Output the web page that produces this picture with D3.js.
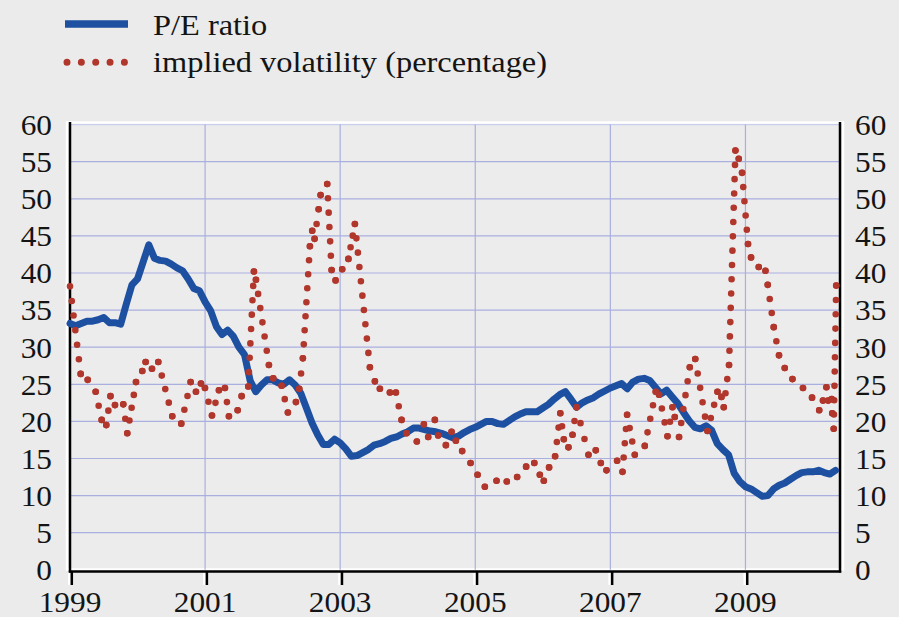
<!DOCTYPE html>
<html><head><meta charset="utf-8">
<script src="https://cdn.jsdelivr.net/npm/d3@7/dist/d3.min.js"></script>
<style>
html,body{margin:0;padding:0;background:#ebebeb;}
svg{display:block;}
svg text{font-family:"Liberation Serif","Times New Roman","DejaVu Serif",serif;}
</style>
</head><body>
<svg id="chart" width="899" height="617"></svg>
<script>
// ---------------- data ----------------
const seriesNames = ["P/E ratio", "implied volatility (percentage)"];
const peStartYear = 1999; // monthly values from January 1999
const peValues = [
  33.2,32.9,33.2,33.5,33.5,33.7,34.0,33.3,33.3,33.1,35.8,38.4,
  39.2,41.5,43.8,42.0,41.7,41.6,41.2,40.7,40.3,39.2,37.9,37.6,
  36.1,34.9,32.8,31.7,32.3,31.5,30.0,29.0,25.5,24.0,24.9,25.6,
  25.6,25.2,25.0,25.6,24.9,23.8,21.8,19.8,18.2,16.9,16.9,17.6,
  17.1,16.3,15.3,15.4,15.8,16.2,16.8,17.0,17.3,17.7,17.9,18.3,
  18.6,19.1,19.1,18.9,18.7,18.6,18.4,18.1,17.8,18.0,18.5,18.9,
  19.2,19.6,20.0,20.0,19.7,19.6,20.1,20.6,21.0,21.3,21.3,21.3,
  21.8,22.3,23.0,23.6,24.0,23.0,21.9,22.5,22.9,23.2,23.7,24.1,
  24.5,24.8,25.1,24.4,25.3,25.7,25.8,25.5,24.6,23.7,24.2,23.3,
  22.4,21.2,20.1,19.2,19.0,19.4,18.8,17.0,16.2,15.5,13.0,11.9,
  11.2,10.9,10.4,9.9,10.0,10.9,11.4,11.7,12.2,12.7,13.1,13.2,
  13.2,13.4,13.1,12.9,13.4
];
const volDates = [
  1999.000,1999.158,1999.262,1999.380,1999.469,1999.537,1999.599,1999.666,1999.789,1999.848,
  1999.977,2000.070,2000.120,2000.214,2000.307,2000.514,2000.647,2000.786,2000.865,2000.939,
  2000.998,2001.102,2001.205,2001.294,2001.353,2001.482,2001.541,2001.639,2001.723,2001.753,
  2001.945,2002.009,2002.133,2002.226,2002.345,2002.394,2002.448,2002.552,2002.586,2002.621,
  2002.681,2002.710,2002.808,2002.873,2002.932,2003.030,2003.122,2003.218,2003.440,2003.514,
  2003.588,2003.736,2003.825,2003.909,2003.983,2004.135,2004.239,2004.303,2004.402,2004.451,
  2004.565,2004.649,2004.713,2004.806,2004.930,2005.034,2005.142,2005.315,2005.467,2005.620,
  2005.753,2005.874,2005.956,2006.015,2006.093,2006.182,2006.259,2006.311,2006.380,2006.440,
  2006.499,2006.676,2006.784,2006.859,2006.943,2007.100,2007.180,2007.248,2007.362,2007.510,
  2007.672,2007.721,2007.846,2007.920,2007.954,2008.017,2008.176,2008.257,2008.438,2008.586,
  2008.645,2008.679,2008.757,2008.852,2008.901,2008.950,2009.038,2009.083,2009.197,2009.296,
  2009.330,2009.419,2009.497,2009.582,2009.696,2009.852,2009.986,2010.092,2010.148,2010.199,
  2010.225,2010.277,2010.285,2010.307,2010.344
];
const volValues = [
  38.2,26.4,25.6,24.0,20.2,19.5,23.4,22.2,22.3,18.4,
  25.3,26.8,28.0,27.1,28.0,20.7,19.7,25.3,24.0,25.1,
  24.5,20.8,24.2,24.5,20.7,21.5,23.4,24.7,40.2,39.1,
  27.6,25.8,24.8,21.2,22.6,24.4,28.5,43.6,45.7,44.6,
  48.6,50.5,52.0,40.4,39.0,40.5,41.9,46.6,27.3,25.4,
  24.4,23.9,23.9,20.2,18.4,17.3,19.6,17.9,20.2,18.1,
  16.8,18.6,17.4,16.0,14.4,12.8,11.2,12.0,11.9,12.5,
  13.9,14.4,12.8,12.0,13.8,15.3,21.1,17.6,16.5,18.2,
  21.9,15.5,16.1,14.4,13.4,14.7,13.2,20.9,15.5,16.7,
  24.0,23.6,18.0,21.9,20.6,17.9,27.3,28.4,18.7,24.0,
  23.3,21.9,27.6,56.5,55.4,53.5,43.9,42.1,40.8,40.3,
  38.4,32.7,28.9,27.2,25.7,24.5,23.2,21.5,22.8,24.6,
  22.8,23.0,21.1,19.0,38.3
];
const xTickYears = [1999, 2001, 2003, 2005, 2007, 2009];
const xGridYears = [2001, 2003, 2005, 2007, 2009];
const yTickValues = [0,5,10,15,20,25,30,35,40,45,50,55,60];

// ---------------- styles ----------------
const BLUE = "#1d50a0", RED = "#b1362b", GRID = "#a9afdf", TXT = "#141414";
const FONT = "Liberation Serif, Times New Roman, DejaVu Serif, serif";

const svg = d3.select("#chart");
svg.append("rect").attr("width", 899).attr("height", 617).attr("fill", "#ebebeb");

const x = d3.scaleLinear().domain([1999, 2010.4]).range([70, 840]);
const y = d3.scaleLinear().domain([0, 60]).range([569.8, 124.6]);

// white frame of plot area
svg.append("rect").attr("x", 67).attr("y", 122.5).attr("width", 776).attr("height", 447)
  .attr("fill", "#ececec").attr("stroke", "#ffffff").attr("stroke-width", 2.5);

// gridlines
svg.append("g").selectAll("line").data(yTickValues.filter(v => v > 0)).join("line")
  .attr("x1", x(1999)).attr("x2", x(2010.4))
  .attr("y1", d => y(d)).attr("y2", d => y(d))
  .attr("stroke", d => d === 60 ? "#c9cdee" : GRID).attr("stroke-width", 1.2);
svg.append("g").selectAll("line").data(xGridYears).join("line")
  .attr("x1", d => x(d)).attr("x2", d => x(d))
  .attr("y1", y(60)).attr("y2", y(0))
  .attr("stroke", GRID).attr("stroke-width", 1.2);

// axes lines
const axisG = svg.append("g").attr("stroke", "#000").attr("stroke-width", 2.5);
axisG.append("line").attr("x1", x(1999)).attr("x2", x(1999)).attr("y1", 122).attr("y2", 572.5);
axisG.append("line").attr("x1", x(2010.4)).attr("x2", x(2010.4)).attr("y1", 122).attr("y2", 572.5);
axisG.append("line").attr("x1", x(1999) - 1.2).attr("x2", x(2010.4) + 1.2).attr("y1", 571.5).attr("y2", 571.5);

// x ticks
svg.append("g").selectAll("line").data(xTickYears).join("line")
  .attr("x1", d => x(d) - 1).attr("x2", d => x(d) - 1).attr("y1", 573).attr("y2", 585)
  .attr("stroke", "#fff").attr("stroke-width", 2);
svg.append("g").selectAll("line").data(xTickYears).join("line")
  .attr("x1", d => x(d) + 1.8).attr("x2", d => x(d) + 1.8).attr("y1", 571).attr("y2", 585)
  .attr("stroke", "#000").attr("stroke-width", 2.5);

// tick labels (the original type is slightly wide)
const fs = 28.5, sx = 1.1;
function styleText(sel, size) {
  sel.attr("font-family", FONT).style("font-family", FONT)
     .attr("font-size", size).attr("fill", TXT);
}
svg.append("g").selectAll("text").data(yTickValues).join("text")
  .attr("transform", d => `translate(52,${y(d) + 10.3}) scale(${sx},1)`)
  .attr("text-anchor", "end").call(styleText, fs).text(d => d);
svg.append("g").selectAll("text").data(yTickValues).join("text")
  .attr("transform", d => `translate(855,${y(d) + 10.3}) scale(${sx},1)`)
  .attr("text-anchor", "start").call(styleText, fs).text(d => d);
svg.append("g").selectAll("text").data(xTickYears).join("text")
  .attr("transform", d => `translate(${x(d)},612) scale(${sx},1)`)
  .attr("text-anchor", "middle").call(styleText, fs).text(d => d);

// P/E line
const peData = peValues.map((v, i) => ({ t: peStartYear + i / 12, v }));
svg.append("path").datum(peData)
  .attr("d", d3.line().x(d => x(d.t)).y(d => y(d.v)))
  .attr("fill", "none").attr("stroke", BLUE).attr("stroke-width", 7)
  .attr("stroke-linejoin", "round").attr("stroke-linecap", "round");

// volatility dotted line (dot pattern restarts at each data point)
const volData = volDates.map((t, i) => ({ t, v: volValues[i] }));
const volG = svg.append("g").attr("fill", "none").attr("stroke", RED)
  .attr("stroke-width", 6.6).attr("stroke-linecap", "round");
const spacing = 14;
for (let i = 0; i < volData.length - 1; i++) {
  const a = volData[i], b = volData[i + 1];
  const x0 = x(a.t), y0 = y(a.v), x1 = x(b.t), y1 = y(b.v);
  const len = Math.hypot(x1 - x0, y1 - y0);
  const n = Math.max(1, Math.round(len / spacing));
  volG.append("path").attr("d", `M${x0},${y0}L${x1},${y1}`)
    .attr("stroke-dasharray", `0 ${len / n - 0.001}`);
}
const last = volData[volData.length - 1];
volG.append("path").attr("d", `M${x(last.t)},${y(last.v)}l0,0.01`);

// legend
const lg = svg.append("g");
lg.append("line").attr("x1", 65).attr("x2", 128).attr("y1", 24).attr("y2", 24)
  .attr("stroke", BLUE).attr("stroke-width", 7.5);
lg.append("path").attr("d", "M67,62.3L125,62.3").attr("fill", "none")
  .attr("stroke", RED).attr("stroke-width", 7).attr("stroke-linecap", "round")
  .attr("stroke-dasharray", "0 14.35");
lg.selectAll("text").data(seriesNames).join("text")
  .attr("transform", (d, i) => `translate(153,${i === 0 ? 35 : 71.7}) scale(1.08,1)`)
  .call(styleText, 30).text(d => d);
</script>
</body></html>
